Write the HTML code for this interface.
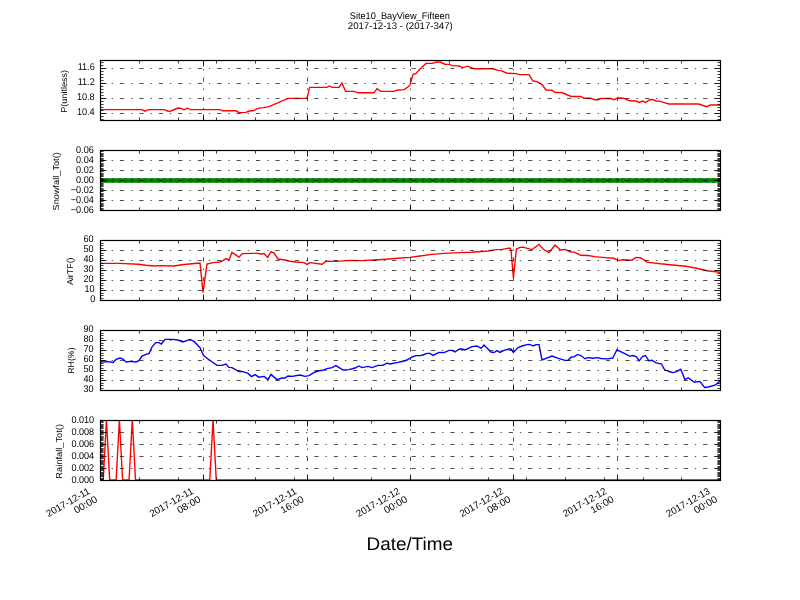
<!DOCTYPE html><html><head><meta charset="utf-8"><style>html,body{margin:0;padding:0;background:#fff;overflow:hidden}svg{display:block;will-change:transform}text{font-family:"Liberation Sans",sans-serif}</style></head><body><svg width="800" height="600" viewBox="0 0 800 600" font-family="Liberation Sans, sans-serif" text-rendering="geometricPrecision"><rect width="800" height="600" fill="#fff"/><defs><clipPath id="c0"><rect x="100" y="60" width="620" height="60"/></clipPath><clipPath id="c1"><rect x="100" y="150" width="620" height="60"/></clipPath><clipPath id="c2"><rect x="100" y="240" width="620" height="60"/></clipPath><clipPath id="c3"><rect x="100" y="330" width="620" height="60"/></clipPath><clipPath id="c4"><rect x="100" y="420" width="620" height="60"/></clipPath></defs><g clip-path="url(#c0)"><path d="M100.00,109.60 L142.00,109.60 L145.00,111.20 L148.60,109.60 L164.40,109.60 L168.00,111.20 L171.00,111.00 L178.00,108.00 L181.00,108.40 L184.00,109.80 L187.40,108.20 L190.40,109.60 L220.00,109.60 L222.40,110.80 L236.00,110.80 L239.00,112.60 L246.00,112.40 L249.00,111.00 L253.00,110.80 L257.00,109.00 L258.00,108.40 L264.00,107.60 L269.00,106.60 L288.00,98.40 L307.00,98.40 L309.60,87.40 L327.00,87.40 L329.40,86.00 L332.00,87.40 L339.00,87.40 L342.00,83.00 L345.60,91.40 L354.00,91.40 L358.00,92.80 L374.00,92.80 L377.00,88.60 L381.00,91.40 L394.00,91.40 L397.00,90.20 L404.00,89.60 L408.00,87.00 L410.00,85.00 L413.00,74.60 L416.00,73.40 L420.00,69.00 L426.00,63.40 L432.00,63.40 L437.00,62.00 L440.00,62.00 L445.00,64.20 L449.00,64.40 L452.00,65.60 L459.00,66.00 L463.00,67.60 L468.00,66.20 L474.00,68.80 L493.00,68.80 L498.00,70.40 L501.00,70.60 L507.00,73.20 L516.00,73.60 L520.00,74.60 L529.00,74.60 L533.00,81.00 L537.00,81.60 L542.00,84.60 L546.00,90.00 L552.00,90.20 L555.30,92.50 L561.70,92.50 L571.20,96.50 L580.80,96.50 L584.00,98.20 L590.40,98.20 L594.60,99.70 L597.80,99.70 L601.00,98.50 L610.60,98.50 L613.70,99.70 L618.00,98.00 L623.30,98.20 L629.70,100.80 L636.00,101.00 L639.20,102.50 L642.40,101.00 L645.60,102.50 L649.90,99.50 L653.00,99.70 L656.20,101.00 L660.50,101.40 L665.80,103.10 L669.00,104.00 L698.70,104.00 L703.00,105.50 L707.20,106.70 L710.40,105.00 L720.00,105.00" fill="none" stroke="#ff0000" stroke-width="1.39" stroke-linejoin="miter" stroke-miterlimit="4" stroke-linecap="square" /></g><g stroke="#000" stroke-width="0.69" fill="none" stroke-dasharray="4.17,6.94,1.39,6.94" stroke-dashoffset="-0.5"><line x1="100" y1="68.5" x2="720" y2="68.5"/><line x1="100" y1="83.5" x2="720" y2="83.5"/><line x1="100" y1="98.5" x2="720" y2="98.5"/><line x1="100" y1="113.5" x2="720" y2="113.5"/><line x1="203.5" y1="120.5" x2="203.5" y2="60.5" stroke-dashoffset="0"/><line x1="307.5" y1="120.5" x2="307.5" y2="60.5" stroke-dashoffset="0"/><line x1="410.5" y1="120.5" x2="410.5" y2="60.5" stroke-dashoffset="0"/><line x1="513.5" y1="120.5" x2="513.5" y2="60.5" stroke-dashoffset="0"/><line x1="617.5" y1="120.5" x2="617.5" y2="60.5" stroke-dashoffset="0"/></g><g stroke="#000" stroke-width="0.85"><line x1="100.5" y1="68.5" x2="106.5" y2="68.5"/><line x1="720.5" y1="68.5" x2="714.5" y2="68.5"/><line x1="100.5" y1="83.5" x2="106.5" y2="83.5"/><line x1="720.5" y1="83.5" x2="714.5" y2="83.5"/><line x1="100.5" y1="98.5" x2="106.5" y2="98.5"/><line x1="720.5" y1="98.5" x2="714.5" y2="98.5"/><line x1="100.5" y1="113.5" x2="106.5" y2="113.5"/><line x1="720.5" y1="113.5" x2="714.5" y2="113.5"/><line x1="100.5" y1="62.5" x2="103.6" y2="62.5" stroke-width="0.75"/><line x1="720.5" y1="62.5" x2="717.4" y2="62.5" stroke-width="0.75"/><line x1="100.5" y1="65.5" x2="103.6" y2="65.5" stroke-width="0.75"/><line x1="720.5" y1="65.5" x2="717.4" y2="65.5" stroke-width="0.75"/><line x1="100.5" y1="71.5" x2="103.6" y2="71.5" stroke-width="0.75"/><line x1="720.5" y1="71.5" x2="717.4" y2="71.5" stroke-width="0.75"/><line x1="100.5" y1="74.5" x2="103.6" y2="74.5" stroke-width="0.75"/><line x1="720.5" y1="74.5" x2="717.4" y2="74.5" stroke-width="0.75"/><line x1="100.5" y1="77.5" x2="103.6" y2="77.5" stroke-width="0.75"/><line x1="720.5" y1="77.5" x2="717.4" y2="77.5" stroke-width="0.75"/><line x1="100.5" y1="80.5" x2="103.6" y2="80.5" stroke-width="0.75"/><line x1="720.5" y1="80.5" x2="717.4" y2="80.5" stroke-width="0.75"/><line x1="100.5" y1="86.5" x2="103.6" y2="86.5" stroke-width="0.75"/><line x1="720.5" y1="86.5" x2="717.4" y2="86.5" stroke-width="0.75"/><line x1="100.5" y1="89.5" x2="103.6" y2="89.5" stroke-width="0.75"/><line x1="720.5" y1="89.5" x2="717.4" y2="89.5" stroke-width="0.75"/><line x1="100.5" y1="92.5" x2="103.6" y2="92.5" stroke-width="0.75"/><line x1="720.5" y1="92.5" x2="717.4" y2="92.5" stroke-width="0.75"/><line x1="100.5" y1="95.5" x2="103.6" y2="95.5" stroke-width="0.75"/><line x1="720.5" y1="95.5" x2="717.4" y2="95.5" stroke-width="0.75"/><line x1="100.5" y1="101.5" x2="103.6" y2="101.5" stroke-width="0.75"/><line x1="720.5" y1="101.5" x2="717.4" y2="101.5" stroke-width="0.75"/><line x1="100.5" y1="104.5" x2="103.6" y2="104.5" stroke-width="0.75"/><line x1="720.5" y1="104.5" x2="717.4" y2="104.5" stroke-width="0.75"/><line x1="100.5" y1="107.5" x2="103.6" y2="107.5" stroke-width="0.75"/><line x1="720.5" y1="107.5" x2="717.4" y2="107.5" stroke-width="0.75"/><line x1="100.5" y1="110.5" x2="103.6" y2="110.5" stroke-width="0.75"/><line x1="720.5" y1="110.5" x2="717.4" y2="110.5" stroke-width="0.75"/><line x1="100.5" y1="116.5" x2="103.6" y2="116.5" stroke-width="0.75"/><line x1="720.5" y1="116.5" x2="717.4" y2="116.5" stroke-width="0.75"/><line x1="100.5" y1="119.5" x2="103.6" y2="119.5" stroke-width="0.75"/><line x1="720.5" y1="119.5" x2="717.4" y2="119.5" stroke-width="0.75"/><line x1="100.5" y1="60.5" x2="100.5" y2="66.5"/><line x1="100.5" y1="120.5" x2="100.5" y2="114.5"/><line x1="203.5" y1="60.5" x2="203.5" y2="66.5"/><line x1="203.5" y1="120.5" x2="203.5" y2="114.5"/><line x1="307.5" y1="60.5" x2="307.5" y2="66.5"/><line x1="307.5" y1="120.5" x2="307.5" y2="114.5"/><line x1="410.5" y1="60.5" x2="410.5" y2="66.5"/><line x1="410.5" y1="120.5" x2="410.5" y2="114.5"/><line x1="513.5" y1="60.5" x2="513.5" y2="66.5"/><line x1="513.5" y1="120.5" x2="513.5" y2="114.5"/><line x1="617.5" y1="60.5" x2="617.5" y2="66.5"/><line x1="617.5" y1="120.5" x2="617.5" y2="114.5"/><line x1="720.5" y1="60.5" x2="720.5" y2="66.5"/><line x1="720.5" y1="120.5" x2="720.5" y2="114.5"/><line x1="100.5" y1="60.5" x2="100.5" y2="63.6" stroke-width="0.75"/><line x1="100.5" y1="120.5" x2="100.5" y2="117.4" stroke-width="0.75"/><line x1="139.5" y1="60.5" x2="139.5" y2="63.6" stroke-width="0.75"/><line x1="139.5" y1="120.5" x2="139.5" y2="117.4" stroke-width="0.75"/><line x1="178.5" y1="60.5" x2="178.5" y2="63.6" stroke-width="0.75"/><line x1="178.5" y1="120.5" x2="178.5" y2="117.4" stroke-width="0.75"/><line x1="216.5" y1="60.5" x2="216.5" y2="63.6" stroke-width="0.75"/><line x1="216.5" y1="120.5" x2="216.5" y2="117.4" stroke-width="0.75"/><line x1="255.5" y1="60.5" x2="255.5" y2="63.6" stroke-width="0.75"/><line x1="255.5" y1="120.5" x2="255.5" y2="117.4" stroke-width="0.75"/><line x1="294.5" y1="60.5" x2="294.5" y2="63.6" stroke-width="0.75"/><line x1="294.5" y1="120.5" x2="294.5" y2="117.4" stroke-width="0.75"/><line x1="333.5" y1="60.5" x2="333.5" y2="63.6" stroke-width="0.75"/><line x1="333.5" y1="120.5" x2="333.5" y2="117.4" stroke-width="0.75"/><line x1="371.5" y1="60.5" x2="371.5" y2="63.6" stroke-width="0.75"/><line x1="371.5" y1="120.5" x2="371.5" y2="117.4" stroke-width="0.75"/><line x1="410.5" y1="60.5" x2="410.5" y2="63.6" stroke-width="0.75"/><line x1="410.5" y1="120.5" x2="410.5" y2="117.4" stroke-width="0.75"/><line x1="449.5" y1="60.5" x2="449.5" y2="63.6" stroke-width="0.75"/><line x1="449.5" y1="120.5" x2="449.5" y2="117.4" stroke-width="0.75"/><line x1="488.5" y1="60.5" x2="488.5" y2="63.6" stroke-width="0.75"/><line x1="488.5" y1="120.5" x2="488.5" y2="117.4" stroke-width="0.75"/><line x1="526.5" y1="60.5" x2="526.5" y2="63.6" stroke-width="0.75"/><line x1="526.5" y1="120.5" x2="526.5" y2="117.4" stroke-width="0.75"/><line x1="565.5" y1="60.5" x2="565.5" y2="63.6" stroke-width="0.75"/><line x1="565.5" y1="120.5" x2="565.5" y2="117.4" stroke-width="0.75"/><line x1="604.5" y1="60.5" x2="604.5" y2="63.6" stroke-width="0.75"/><line x1="604.5" y1="120.5" x2="604.5" y2="117.4" stroke-width="0.75"/><line x1="643.5" y1="60.5" x2="643.5" y2="63.6" stroke-width="0.75"/><line x1="643.5" y1="120.5" x2="643.5" y2="117.4" stroke-width="0.75"/><line x1="681.5" y1="60.5" x2="681.5" y2="63.6" stroke-width="0.75"/><line x1="681.5" y1="120.5" x2="681.5" y2="117.4" stroke-width="0.75"/><line x1="720.5" y1="60.5" x2="720.5" y2="63.6" stroke-width="0.75"/><line x1="720.5" y1="120.5" x2="720.5" y2="117.4" stroke-width="0.75"/></g><rect x="100.5" y="60.5" width="620" height="60" fill="none" stroke="#000" stroke-width="1.2"/><g font-size="9.8" text-anchor="end" fill="#000"><text transform="translate(94.70,70.00) scale(0.93,1)">11.6</text><text transform="translate(94.70,85.00) scale(0.93,1)">11.2</text><text transform="translate(94.70,100.00) scale(0.93,1)">10.8</text><text transform="translate(94.70,115.00) scale(0.93,1)">10.4</text></g><text transform="translate(66.63,112.75) rotate(-90)" font-size="8.6" textLength="42.83" lengthAdjust="spacingAndGlyphs">P(unitless)</text><g clip-path="url(#c1)"><line x1="100" y1="180.5" x2="720" y2="180.5" stroke="#008000" stroke-width="4.3"/><circle cx="100.00" cy="180.5" r="2.45" fill="#008000"/><circle cx="106.46" cy="180.5" r="2.45" fill="#008000"/><circle cx="112.92" cy="180.5" r="2.45" fill="#008000"/><circle cx="119.38" cy="180.5" r="2.45" fill="#008000"/><circle cx="125.83" cy="180.5" r="2.45" fill="#008000"/><circle cx="132.29" cy="180.5" r="2.45" fill="#008000"/><circle cx="138.75" cy="180.5" r="2.45" fill="#008000"/><circle cx="145.21" cy="180.5" r="2.45" fill="#008000"/><circle cx="151.67" cy="180.5" r="2.45" fill="#008000"/><circle cx="158.12" cy="180.5" r="2.45" fill="#008000"/><circle cx="164.58" cy="180.5" r="2.45" fill="#008000"/><circle cx="171.04" cy="180.5" r="2.45" fill="#008000"/><circle cx="177.50" cy="180.5" r="2.45" fill="#008000"/><circle cx="183.96" cy="180.5" r="2.45" fill="#008000"/><circle cx="190.42" cy="180.5" r="2.45" fill="#008000"/><circle cx="196.88" cy="180.5" r="2.45" fill="#008000"/><circle cx="203.33" cy="180.5" r="2.45" fill="#008000"/><circle cx="209.79" cy="180.5" r="2.45" fill="#008000"/><circle cx="216.25" cy="180.5" r="2.45" fill="#008000"/><circle cx="222.71" cy="180.5" r="2.45" fill="#008000"/><circle cx="229.17" cy="180.5" r="2.45" fill="#008000"/><circle cx="235.62" cy="180.5" r="2.45" fill="#008000"/><circle cx="242.08" cy="180.5" r="2.45" fill="#008000"/><circle cx="248.54" cy="180.5" r="2.45" fill="#008000"/><circle cx="255.00" cy="180.5" r="2.45" fill="#008000"/><circle cx="261.46" cy="180.5" r="2.45" fill="#008000"/><circle cx="267.92" cy="180.5" r="2.45" fill="#008000"/><circle cx="274.38" cy="180.5" r="2.45" fill="#008000"/><circle cx="280.83" cy="180.5" r="2.45" fill="#008000"/><circle cx="287.29" cy="180.5" r="2.45" fill="#008000"/><circle cx="293.75" cy="180.5" r="2.45" fill="#008000"/><circle cx="300.21" cy="180.5" r="2.45" fill="#008000"/><circle cx="306.67" cy="180.5" r="2.45" fill="#008000"/><circle cx="313.12" cy="180.5" r="2.45" fill="#008000"/><circle cx="319.58" cy="180.5" r="2.45" fill="#008000"/><circle cx="326.04" cy="180.5" r="2.45" fill="#008000"/><circle cx="332.50" cy="180.5" r="2.45" fill="#008000"/><circle cx="338.96" cy="180.5" r="2.45" fill="#008000"/><circle cx="345.42" cy="180.5" r="2.45" fill="#008000"/><circle cx="351.88" cy="180.5" r="2.45" fill="#008000"/><circle cx="358.33" cy="180.5" r="2.45" fill="#008000"/><circle cx="364.79" cy="180.5" r="2.45" fill="#008000"/><circle cx="371.25" cy="180.5" r="2.45" fill="#008000"/><circle cx="377.71" cy="180.5" r="2.45" fill="#008000"/><circle cx="384.17" cy="180.5" r="2.45" fill="#008000"/><circle cx="390.62" cy="180.5" r="2.45" fill="#008000"/><circle cx="397.08" cy="180.5" r="2.45" fill="#008000"/><circle cx="403.54" cy="180.5" r="2.45" fill="#008000"/><circle cx="410.00" cy="180.5" r="2.45" fill="#008000"/><circle cx="416.46" cy="180.5" r="2.45" fill="#008000"/><circle cx="422.92" cy="180.5" r="2.45" fill="#008000"/><circle cx="429.38" cy="180.5" r="2.45" fill="#008000"/><circle cx="435.83" cy="180.5" r="2.45" fill="#008000"/><circle cx="442.29" cy="180.5" r="2.45" fill="#008000"/><circle cx="448.75" cy="180.5" r="2.45" fill="#008000"/><circle cx="455.21" cy="180.5" r="2.45" fill="#008000"/><circle cx="461.67" cy="180.5" r="2.45" fill="#008000"/><circle cx="468.12" cy="180.5" r="2.45" fill="#008000"/><circle cx="474.58" cy="180.5" r="2.45" fill="#008000"/><circle cx="481.04" cy="180.5" r="2.45" fill="#008000"/><circle cx="487.50" cy="180.5" r="2.45" fill="#008000"/><circle cx="493.96" cy="180.5" r="2.45" fill="#008000"/><circle cx="500.42" cy="180.5" r="2.45" fill="#008000"/><circle cx="506.88" cy="180.5" r="2.45" fill="#008000"/><circle cx="513.33" cy="180.5" r="2.45" fill="#008000"/><circle cx="519.79" cy="180.5" r="2.45" fill="#008000"/><circle cx="526.25" cy="180.5" r="2.45" fill="#008000"/><circle cx="532.71" cy="180.5" r="2.45" fill="#008000"/><circle cx="539.17" cy="180.5" r="2.45" fill="#008000"/><circle cx="545.62" cy="180.5" r="2.45" fill="#008000"/><circle cx="552.08" cy="180.5" r="2.45" fill="#008000"/><circle cx="558.54" cy="180.5" r="2.45" fill="#008000"/><circle cx="565.00" cy="180.5" r="2.45" fill="#008000"/><circle cx="571.46" cy="180.5" r="2.45" fill="#008000"/><circle cx="577.92" cy="180.5" r="2.45" fill="#008000"/><circle cx="584.38" cy="180.5" r="2.45" fill="#008000"/><circle cx="590.83" cy="180.5" r="2.45" fill="#008000"/><circle cx="597.29" cy="180.5" r="2.45" fill="#008000"/><circle cx="603.75" cy="180.5" r="2.45" fill="#008000"/><circle cx="610.21" cy="180.5" r="2.45" fill="#008000"/><circle cx="616.67" cy="180.5" r="2.45" fill="#008000"/><circle cx="623.12" cy="180.5" r="2.45" fill="#008000"/><circle cx="629.58" cy="180.5" r="2.45" fill="#008000"/><circle cx="636.04" cy="180.5" r="2.45" fill="#008000"/><circle cx="642.50" cy="180.5" r="2.45" fill="#008000"/><circle cx="648.96" cy="180.5" r="2.45" fill="#008000"/><circle cx="655.42" cy="180.5" r="2.45" fill="#008000"/><circle cx="661.88" cy="180.5" r="2.45" fill="#008000"/><circle cx="668.33" cy="180.5" r="2.45" fill="#008000"/><circle cx="674.79" cy="180.5" r="2.45" fill="#008000"/><circle cx="681.25" cy="180.5" r="2.45" fill="#008000"/><circle cx="687.71" cy="180.5" r="2.45" fill="#008000"/><circle cx="694.17" cy="180.5" r="2.45" fill="#008000"/><circle cx="700.62" cy="180.5" r="2.45" fill="#008000"/><circle cx="707.08" cy="180.5" r="2.45" fill="#008000"/><circle cx="713.54" cy="180.5" r="2.45" fill="#008000"/><circle cx="720.00" cy="180.5" r="2.45" fill="#008000"/></g><g stroke="#000" stroke-width="0.69" fill="none" stroke-dasharray="4.17,6.94,1.39,6.94" stroke-dashoffset="-0.5"><line x1="100" y1="160.5" x2="720" y2="160.5"/><line x1="100" y1="170.5" x2="720" y2="170.5"/><line x1="100" y1="180.5" x2="720" y2="180.5"/><line x1="100" y1="190.5" x2="720" y2="190.5"/><line x1="100" y1="200.5" x2="720" y2="200.5"/><line x1="203.5" y1="210.5" x2="203.5" y2="150.5" stroke-dashoffset="0"/><line x1="307.5" y1="210.5" x2="307.5" y2="150.5" stroke-dashoffset="0"/><line x1="410.5" y1="210.5" x2="410.5" y2="150.5" stroke-dashoffset="0"/><line x1="513.5" y1="210.5" x2="513.5" y2="150.5" stroke-dashoffset="0"/><line x1="617.5" y1="210.5" x2="617.5" y2="150.5" stroke-dashoffset="0"/></g><g stroke="#000" stroke-width="0.85"><line x1="100.5" y1="150.5" x2="106.5" y2="150.5"/><line x1="720.5" y1="150.5" x2="714.5" y2="150.5"/><line x1="100.5" y1="160.5" x2="106.5" y2="160.5"/><line x1="720.5" y1="160.5" x2="714.5" y2="160.5"/><line x1="100.5" y1="170.5" x2="106.5" y2="170.5"/><line x1="720.5" y1="170.5" x2="714.5" y2="170.5"/><line x1="100.5" y1="180.5" x2="106.5" y2="180.5"/><line x1="720.5" y1="180.5" x2="714.5" y2="180.5"/><line x1="100.5" y1="190.5" x2="106.5" y2="190.5"/><line x1="720.5" y1="190.5" x2="714.5" y2="190.5"/><line x1="100.5" y1="200.5" x2="106.5" y2="200.5"/><line x1="720.5" y1="200.5" x2="714.5" y2="200.5"/><line x1="100.5" y1="210.5" x2="106.5" y2="210.5"/><line x1="720.5" y1="210.5" x2="714.5" y2="210.5"/><line x1="100.5" y1="151.5" x2="103.6" y2="151.5" stroke-width="0.75"/><line x1="720.5" y1="151.5" x2="717.4" y2="151.5" stroke-width="0.75"/><line x1="100.5" y1="153.5" x2="103.6" y2="153.5" stroke-width="0.75"/><line x1="720.5" y1="153.5" x2="717.4" y2="153.5" stroke-width="0.75"/><line x1="100.5" y1="154.5" x2="103.6" y2="154.5" stroke-width="0.75"/><line x1="720.5" y1="154.5" x2="717.4" y2="154.5" stroke-width="0.75"/><line x1="100.5" y1="155.5" x2="103.6" y2="155.5" stroke-width="0.75"/><line x1="720.5" y1="155.5" x2="717.4" y2="155.5" stroke-width="0.75"/><line x1="100.5" y1="156.5" x2="103.6" y2="156.5" stroke-width="0.75"/><line x1="720.5" y1="156.5" x2="717.4" y2="156.5" stroke-width="0.75"/><line x1="100.5" y1="158.5" x2="103.6" y2="158.5" stroke-width="0.75"/><line x1="720.5" y1="158.5" x2="717.4" y2="158.5" stroke-width="0.75"/><line x1="100.5" y1="159.5" x2="103.6" y2="159.5" stroke-width="0.75"/><line x1="720.5" y1="159.5" x2="717.4" y2="159.5" stroke-width="0.75"/><line x1="100.5" y1="161.5" x2="103.6" y2="161.5" stroke-width="0.75"/><line x1="720.5" y1="161.5" x2="717.4" y2="161.5" stroke-width="0.75"/><line x1="100.5" y1="163.5" x2="103.6" y2="163.5" stroke-width="0.75"/><line x1="720.5" y1="163.5" x2="717.4" y2="163.5" stroke-width="0.75"/><line x1="100.5" y1="164.5" x2="103.6" y2="164.5" stroke-width="0.75"/><line x1="720.5" y1="164.5" x2="717.4" y2="164.5" stroke-width="0.75"/><line x1="100.5" y1="165.5" x2="103.6" y2="165.5" stroke-width="0.75"/><line x1="720.5" y1="165.5" x2="717.4" y2="165.5" stroke-width="0.75"/><line x1="100.5" y1="166.5" x2="103.6" y2="166.5" stroke-width="0.75"/><line x1="720.5" y1="166.5" x2="717.4" y2="166.5" stroke-width="0.75"/><line x1="100.5" y1="168.5" x2="103.6" y2="168.5" stroke-width="0.75"/><line x1="720.5" y1="168.5" x2="717.4" y2="168.5" stroke-width="0.75"/><line x1="100.5" y1="169.5" x2="103.6" y2="169.5" stroke-width="0.75"/><line x1="720.5" y1="169.5" x2="717.4" y2="169.5" stroke-width="0.75"/><line x1="100.5" y1="171.5" x2="103.6" y2="171.5" stroke-width="0.75"/><line x1="720.5" y1="171.5" x2="717.4" y2="171.5" stroke-width="0.75"/><line x1="100.5" y1="173.5" x2="103.6" y2="173.5" stroke-width="0.75"/><line x1="720.5" y1="173.5" x2="717.4" y2="173.5" stroke-width="0.75"/><line x1="100.5" y1="174.5" x2="103.6" y2="174.5" stroke-width="0.75"/><line x1="720.5" y1="174.5" x2="717.4" y2="174.5" stroke-width="0.75"/><line x1="100.5" y1="175.5" x2="103.6" y2="175.5" stroke-width="0.75"/><line x1="720.5" y1="175.5" x2="717.4" y2="175.5" stroke-width="0.75"/><line x1="100.5" y1="176.5" x2="103.6" y2="176.5" stroke-width="0.75"/><line x1="720.5" y1="176.5" x2="717.4" y2="176.5" stroke-width="0.75"/><line x1="100.5" y1="178.5" x2="103.6" y2="178.5" stroke-width="0.75"/><line x1="720.5" y1="178.5" x2="717.4" y2="178.5" stroke-width="0.75"/><line x1="100.5" y1="179.5" x2="103.6" y2="179.5" stroke-width="0.75"/><line x1="720.5" y1="179.5" x2="717.4" y2="179.5" stroke-width="0.75"/><line x1="100.5" y1="181.5" x2="103.6" y2="181.5" stroke-width="0.75"/><line x1="720.5" y1="181.5" x2="717.4" y2="181.5" stroke-width="0.75"/><line x1="100.5" y1="183.5" x2="103.6" y2="183.5" stroke-width="0.75"/><line x1="720.5" y1="183.5" x2="717.4" y2="183.5" stroke-width="0.75"/><line x1="100.5" y1="184.5" x2="103.6" y2="184.5" stroke-width="0.75"/><line x1="720.5" y1="184.5" x2="717.4" y2="184.5" stroke-width="0.75"/><line x1="100.5" y1="185.5" x2="103.6" y2="185.5" stroke-width="0.75"/><line x1="720.5" y1="185.5" x2="717.4" y2="185.5" stroke-width="0.75"/><line x1="100.5" y1="186.5" x2="103.6" y2="186.5" stroke-width="0.75"/><line x1="720.5" y1="186.5" x2="717.4" y2="186.5" stroke-width="0.75"/><line x1="100.5" y1="188.5" x2="103.6" y2="188.5" stroke-width="0.75"/><line x1="720.5" y1="188.5" x2="717.4" y2="188.5" stroke-width="0.75"/><line x1="100.5" y1="189.5" x2="103.6" y2="189.5" stroke-width="0.75"/><line x1="720.5" y1="189.5" x2="717.4" y2="189.5" stroke-width="0.75"/><line x1="100.5" y1="191.5" x2="103.6" y2="191.5" stroke-width="0.75"/><line x1="720.5" y1="191.5" x2="717.4" y2="191.5" stroke-width="0.75"/><line x1="100.5" y1="193.5" x2="103.6" y2="193.5" stroke-width="0.75"/><line x1="720.5" y1="193.5" x2="717.4" y2="193.5" stroke-width="0.75"/><line x1="100.5" y1="194.5" x2="103.6" y2="194.5" stroke-width="0.75"/><line x1="720.5" y1="194.5" x2="717.4" y2="194.5" stroke-width="0.75"/><line x1="100.5" y1="195.5" x2="103.6" y2="195.5" stroke-width="0.75"/><line x1="720.5" y1="195.5" x2="717.4" y2="195.5" stroke-width="0.75"/><line x1="100.5" y1="196.5" x2="103.6" y2="196.5" stroke-width="0.75"/><line x1="720.5" y1="196.5" x2="717.4" y2="196.5" stroke-width="0.75"/><line x1="100.5" y1="198.5" x2="103.6" y2="198.5" stroke-width="0.75"/><line x1="720.5" y1="198.5" x2="717.4" y2="198.5" stroke-width="0.75"/><line x1="100.5" y1="199.5" x2="103.6" y2="199.5" stroke-width="0.75"/><line x1="720.5" y1="199.5" x2="717.4" y2="199.5" stroke-width="0.75"/><line x1="100.5" y1="201.5" x2="103.6" y2="201.5" stroke-width="0.75"/><line x1="720.5" y1="201.5" x2="717.4" y2="201.5" stroke-width="0.75"/><line x1="100.5" y1="203.5" x2="103.6" y2="203.5" stroke-width="0.75"/><line x1="720.5" y1="203.5" x2="717.4" y2="203.5" stroke-width="0.75"/><line x1="100.5" y1="204.5" x2="103.6" y2="204.5" stroke-width="0.75"/><line x1="720.5" y1="204.5" x2="717.4" y2="204.5" stroke-width="0.75"/><line x1="100.5" y1="205.5" x2="103.6" y2="205.5" stroke-width="0.75"/><line x1="720.5" y1="205.5" x2="717.4" y2="205.5" stroke-width="0.75"/><line x1="100.5" y1="206.5" x2="103.6" y2="206.5" stroke-width="0.75"/><line x1="720.5" y1="206.5" x2="717.4" y2="206.5" stroke-width="0.75"/><line x1="100.5" y1="208.5" x2="103.6" y2="208.5" stroke-width="0.75"/><line x1="720.5" y1="208.5" x2="717.4" y2="208.5" stroke-width="0.75"/><line x1="100.5" y1="209.5" x2="103.6" y2="209.5" stroke-width="0.75"/><line x1="720.5" y1="209.5" x2="717.4" y2="209.5" stroke-width="0.75"/><line x1="100.5" y1="150.5" x2="100.5" y2="156.5"/><line x1="100.5" y1="210.5" x2="100.5" y2="204.5"/><line x1="203.5" y1="150.5" x2="203.5" y2="156.5"/><line x1="203.5" y1="210.5" x2="203.5" y2="204.5"/><line x1="307.5" y1="150.5" x2="307.5" y2="156.5"/><line x1="307.5" y1="210.5" x2="307.5" y2="204.5"/><line x1="410.5" y1="150.5" x2="410.5" y2="156.5"/><line x1="410.5" y1="210.5" x2="410.5" y2="204.5"/><line x1="513.5" y1="150.5" x2="513.5" y2="156.5"/><line x1="513.5" y1="210.5" x2="513.5" y2="204.5"/><line x1="617.5" y1="150.5" x2="617.5" y2="156.5"/><line x1="617.5" y1="210.5" x2="617.5" y2="204.5"/><line x1="720.5" y1="150.5" x2="720.5" y2="156.5"/><line x1="720.5" y1="210.5" x2="720.5" y2="204.5"/><line x1="100.5" y1="150.5" x2="100.5" y2="153.6" stroke-width="0.75"/><line x1="100.5" y1="210.5" x2="100.5" y2="207.4" stroke-width="0.75"/><line x1="139.5" y1="150.5" x2="139.5" y2="153.6" stroke-width="0.75"/><line x1="139.5" y1="210.5" x2="139.5" y2="207.4" stroke-width="0.75"/><line x1="178.5" y1="150.5" x2="178.5" y2="153.6" stroke-width="0.75"/><line x1="178.5" y1="210.5" x2="178.5" y2="207.4" stroke-width="0.75"/><line x1="216.5" y1="150.5" x2="216.5" y2="153.6" stroke-width="0.75"/><line x1="216.5" y1="210.5" x2="216.5" y2="207.4" stroke-width="0.75"/><line x1="255.5" y1="150.5" x2="255.5" y2="153.6" stroke-width="0.75"/><line x1="255.5" y1="210.5" x2="255.5" y2="207.4" stroke-width="0.75"/><line x1="294.5" y1="150.5" x2="294.5" y2="153.6" stroke-width="0.75"/><line x1="294.5" y1="210.5" x2="294.5" y2="207.4" stroke-width="0.75"/><line x1="333.5" y1="150.5" x2="333.5" y2="153.6" stroke-width="0.75"/><line x1="333.5" y1="210.5" x2="333.5" y2="207.4" stroke-width="0.75"/><line x1="371.5" y1="150.5" x2="371.5" y2="153.6" stroke-width="0.75"/><line x1="371.5" y1="210.5" x2="371.5" y2="207.4" stroke-width="0.75"/><line x1="410.5" y1="150.5" x2="410.5" y2="153.6" stroke-width="0.75"/><line x1="410.5" y1="210.5" x2="410.5" y2="207.4" stroke-width="0.75"/><line x1="449.5" y1="150.5" x2="449.5" y2="153.6" stroke-width="0.75"/><line x1="449.5" y1="210.5" x2="449.5" y2="207.4" stroke-width="0.75"/><line x1="488.5" y1="150.5" x2="488.5" y2="153.6" stroke-width="0.75"/><line x1="488.5" y1="210.5" x2="488.5" y2="207.4" stroke-width="0.75"/><line x1="526.5" y1="150.5" x2="526.5" y2="153.6" stroke-width="0.75"/><line x1="526.5" y1="210.5" x2="526.5" y2="207.4" stroke-width="0.75"/><line x1="565.5" y1="150.5" x2="565.5" y2="153.6" stroke-width="0.75"/><line x1="565.5" y1="210.5" x2="565.5" y2="207.4" stroke-width="0.75"/><line x1="604.5" y1="150.5" x2="604.5" y2="153.6" stroke-width="0.75"/><line x1="604.5" y1="210.5" x2="604.5" y2="207.4" stroke-width="0.75"/><line x1="643.5" y1="150.5" x2="643.5" y2="153.6" stroke-width="0.75"/><line x1="643.5" y1="210.5" x2="643.5" y2="207.4" stroke-width="0.75"/><line x1="681.5" y1="150.5" x2="681.5" y2="153.6" stroke-width="0.75"/><line x1="681.5" y1="210.5" x2="681.5" y2="207.4" stroke-width="0.75"/><line x1="720.5" y1="150.5" x2="720.5" y2="153.6" stroke-width="0.75"/><line x1="720.5" y1="210.5" x2="720.5" y2="207.4" stroke-width="0.75"/></g><rect x="100.5" y="150.5" width="620" height="60" fill="none" stroke="#000" stroke-width="1.2"/><g font-size="9.8" text-anchor="end" fill="#000"><text transform="translate(93.80,153.00) scale(0.93,1)">0.06</text><text transform="translate(93.80,163.00) scale(0.93,1)">0.04</text><text transform="translate(93.80,173.00) scale(0.93,1)">0.02</text><text transform="translate(93.80,183.00) scale(0.93,1)">0.00</text><text transform="translate(93.80,193.00) scale(0.93,1)">−0.02</text><text transform="translate(93.80,203.00) scale(0.93,1)">−0.04</text><text transform="translate(93.80,213.00) scale(0.93,1)">−0.06</text></g><text transform="translate(59.34,210.41) rotate(-90)" font-size="8.6" textLength="58.20" lengthAdjust="spacingAndGlyphs">Snowfall_Tot()</text><g clip-path="url(#c2)"><path d="M100.00,263.40 L120.00,263.40 L138.00,264.20 L146.00,265.20 L154.00,266.00 L160.00,265.60 L174.00,266.00 L182.00,264.80 L192.00,263.80 L200.00,263.00 L203.00,292.40 L207.00,264.00 L213.00,262.60 L220.00,262.00 L223.00,260.60 L226.00,258.60 L229.00,260.00 L232.00,252.40 L239.00,257.00 L242.40,253.60 L252.00,253.40 L258.00,253.40 L261.00,254.00 L264.00,253.60 L267.60,257.40 L271.00,251.60 L274.00,253.00 L278.00,259.00 L285.00,260.00 L290.00,261.20 L296.00,262.00 L304.00,262.60 L307.00,264.40 L310.00,262.60 L322.00,264.20 L326.00,261.20 L336.00,261.40 L350.00,260.40 L362.00,260.60 L374.00,260.00 L386.00,259.20 L398.00,258.20 L410.00,257.40 L420.00,256.00 L432.00,254.40 L444.00,253.40 L460.00,252.60 L472.00,252.20 L488.00,251.00 L496.00,249.60 L502.00,249.40 L506.00,248.60 L510.00,248.00 L511.00,250.00 L513.40,277.60 L516.40,249.00 L520.00,247.40 L523.00,247.20 L532.00,249.60 L539.00,244.40 L543.00,249.00 L549.00,252.60 L555.00,245.00 L560.60,250.00 L564.90,249.40 L570.20,251.70 L574.40,252.10 L580.80,255.30 L588.20,255.50 L594.60,256.60 L605.20,257.60 L613.70,258.30 L618.00,260.40 L623.30,259.80 L631.80,260.20 L636.10,257.40 L640.30,257.80 L643.50,259.50 L646.70,262.10 L660.50,263.80 L677.50,265.50 L686.00,266.30 L696.60,268.30 L707.20,270.80 L720.00,272.30" fill="none" stroke="#ff0000" stroke-width="1.39" stroke-linejoin="miter" stroke-miterlimit="4" stroke-linecap="square" /></g><g stroke="#000" stroke-width="0.69" fill="none" stroke-dasharray="4.17,6.94,1.39,6.94" stroke-dashoffset="-0.5"><line x1="100" y1="250.5" x2="720" y2="250.5"/><line x1="100" y1="260.5" x2="720" y2="260.5"/><line x1="100" y1="270.5" x2="720" y2="270.5"/><line x1="100" y1="280.5" x2="720" y2="280.5"/><line x1="100" y1="290.5" x2="720" y2="290.5"/><line x1="203.5" y1="300.5" x2="203.5" y2="240.5" stroke-dashoffset="0"/><line x1="307.5" y1="300.5" x2="307.5" y2="240.5" stroke-dashoffset="0"/><line x1="410.5" y1="300.5" x2="410.5" y2="240.5" stroke-dashoffset="0"/><line x1="513.5" y1="300.5" x2="513.5" y2="240.5" stroke-dashoffset="0"/><line x1="617.5" y1="300.5" x2="617.5" y2="240.5" stroke-dashoffset="0"/></g><g stroke="#000" stroke-width="0.85"><line x1="100.5" y1="240.5" x2="106.5" y2="240.5"/><line x1="720.5" y1="240.5" x2="714.5" y2="240.5"/><line x1="100.5" y1="250.5" x2="106.5" y2="250.5"/><line x1="720.5" y1="250.5" x2="714.5" y2="250.5"/><line x1="100.5" y1="260.5" x2="106.5" y2="260.5"/><line x1="720.5" y1="260.5" x2="714.5" y2="260.5"/><line x1="100.5" y1="270.5" x2="106.5" y2="270.5"/><line x1="720.5" y1="270.5" x2="714.5" y2="270.5"/><line x1="100.5" y1="280.5" x2="106.5" y2="280.5"/><line x1="720.5" y1="280.5" x2="714.5" y2="280.5"/><line x1="100.5" y1="290.5" x2="106.5" y2="290.5"/><line x1="720.5" y1="290.5" x2="714.5" y2="290.5"/><line x1="100.5" y1="300.5" x2="106.5" y2="300.5"/><line x1="720.5" y1="300.5" x2="714.5" y2="300.5"/><line x1="100.5" y1="243.5" x2="103.6" y2="243.5" stroke-width="0.75"/><line x1="720.5" y1="243.5" x2="717.4" y2="243.5" stroke-width="0.75"/><line x1="100.5" y1="245.5" x2="103.6" y2="245.5" stroke-width="0.75"/><line x1="720.5" y1="245.5" x2="717.4" y2="245.5" stroke-width="0.75"/><line x1="100.5" y1="248.5" x2="103.6" y2="248.5" stroke-width="0.75"/><line x1="720.5" y1="248.5" x2="717.4" y2="248.5" stroke-width="0.75"/><line x1="100.5" y1="253.5" x2="103.6" y2="253.5" stroke-width="0.75"/><line x1="720.5" y1="253.5" x2="717.4" y2="253.5" stroke-width="0.75"/><line x1="100.5" y1="255.5" x2="103.6" y2="255.5" stroke-width="0.75"/><line x1="720.5" y1="255.5" x2="717.4" y2="255.5" stroke-width="0.75"/><line x1="100.5" y1="258.5" x2="103.6" y2="258.5" stroke-width="0.75"/><line x1="720.5" y1="258.5" x2="717.4" y2="258.5" stroke-width="0.75"/><line x1="100.5" y1="263.5" x2="103.6" y2="263.5" stroke-width="0.75"/><line x1="720.5" y1="263.5" x2="717.4" y2="263.5" stroke-width="0.75"/><line x1="100.5" y1="265.5" x2="103.6" y2="265.5" stroke-width="0.75"/><line x1="720.5" y1="265.5" x2="717.4" y2="265.5" stroke-width="0.75"/><line x1="100.5" y1="268.5" x2="103.6" y2="268.5" stroke-width="0.75"/><line x1="720.5" y1="268.5" x2="717.4" y2="268.5" stroke-width="0.75"/><line x1="100.5" y1="273.5" x2="103.6" y2="273.5" stroke-width="0.75"/><line x1="720.5" y1="273.5" x2="717.4" y2="273.5" stroke-width="0.75"/><line x1="100.5" y1="275.5" x2="103.6" y2="275.5" stroke-width="0.75"/><line x1="720.5" y1="275.5" x2="717.4" y2="275.5" stroke-width="0.75"/><line x1="100.5" y1="278.5" x2="103.6" y2="278.5" stroke-width="0.75"/><line x1="720.5" y1="278.5" x2="717.4" y2="278.5" stroke-width="0.75"/><line x1="100.5" y1="283.5" x2="103.6" y2="283.5" stroke-width="0.75"/><line x1="720.5" y1="283.5" x2="717.4" y2="283.5" stroke-width="0.75"/><line x1="100.5" y1="285.5" x2="103.6" y2="285.5" stroke-width="0.75"/><line x1="720.5" y1="285.5" x2="717.4" y2="285.5" stroke-width="0.75"/><line x1="100.5" y1="288.5" x2="103.6" y2="288.5" stroke-width="0.75"/><line x1="720.5" y1="288.5" x2="717.4" y2="288.5" stroke-width="0.75"/><line x1="100.5" y1="293.5" x2="103.6" y2="293.5" stroke-width="0.75"/><line x1="720.5" y1="293.5" x2="717.4" y2="293.5" stroke-width="0.75"/><line x1="100.5" y1="295.5" x2="103.6" y2="295.5" stroke-width="0.75"/><line x1="720.5" y1="295.5" x2="717.4" y2="295.5" stroke-width="0.75"/><line x1="100.5" y1="298.5" x2="103.6" y2="298.5" stroke-width="0.75"/><line x1="720.5" y1="298.5" x2="717.4" y2="298.5" stroke-width="0.75"/><line x1="100.5" y1="240.5" x2="100.5" y2="246.5"/><line x1="100.5" y1="300.5" x2="100.5" y2="294.5"/><line x1="203.5" y1="240.5" x2="203.5" y2="246.5"/><line x1="203.5" y1="300.5" x2="203.5" y2="294.5"/><line x1="307.5" y1="240.5" x2="307.5" y2="246.5"/><line x1="307.5" y1="300.5" x2="307.5" y2="294.5"/><line x1="410.5" y1="240.5" x2="410.5" y2="246.5"/><line x1="410.5" y1="300.5" x2="410.5" y2="294.5"/><line x1="513.5" y1="240.5" x2="513.5" y2="246.5"/><line x1="513.5" y1="300.5" x2="513.5" y2="294.5"/><line x1="617.5" y1="240.5" x2="617.5" y2="246.5"/><line x1="617.5" y1="300.5" x2="617.5" y2="294.5"/><line x1="720.5" y1="240.5" x2="720.5" y2="246.5"/><line x1="720.5" y1="300.5" x2="720.5" y2="294.5"/><line x1="100.5" y1="240.5" x2="100.5" y2="243.6" stroke-width="0.75"/><line x1="100.5" y1="300.5" x2="100.5" y2="297.4" stroke-width="0.75"/><line x1="139.5" y1="240.5" x2="139.5" y2="243.6" stroke-width="0.75"/><line x1="139.5" y1="300.5" x2="139.5" y2="297.4" stroke-width="0.75"/><line x1="178.5" y1="240.5" x2="178.5" y2="243.6" stroke-width="0.75"/><line x1="178.5" y1="300.5" x2="178.5" y2="297.4" stroke-width="0.75"/><line x1="216.5" y1="240.5" x2="216.5" y2="243.6" stroke-width="0.75"/><line x1="216.5" y1="300.5" x2="216.5" y2="297.4" stroke-width="0.75"/><line x1="255.5" y1="240.5" x2="255.5" y2="243.6" stroke-width="0.75"/><line x1="255.5" y1="300.5" x2="255.5" y2="297.4" stroke-width="0.75"/><line x1="294.5" y1="240.5" x2="294.5" y2="243.6" stroke-width="0.75"/><line x1="294.5" y1="300.5" x2="294.5" y2="297.4" stroke-width="0.75"/><line x1="333.5" y1="240.5" x2="333.5" y2="243.6" stroke-width="0.75"/><line x1="333.5" y1="300.5" x2="333.5" y2="297.4" stroke-width="0.75"/><line x1="371.5" y1="240.5" x2="371.5" y2="243.6" stroke-width="0.75"/><line x1="371.5" y1="300.5" x2="371.5" y2="297.4" stroke-width="0.75"/><line x1="410.5" y1="240.5" x2="410.5" y2="243.6" stroke-width="0.75"/><line x1="410.5" y1="300.5" x2="410.5" y2="297.4" stroke-width="0.75"/><line x1="449.5" y1="240.5" x2="449.5" y2="243.6" stroke-width="0.75"/><line x1="449.5" y1="300.5" x2="449.5" y2="297.4" stroke-width="0.75"/><line x1="488.5" y1="240.5" x2="488.5" y2="243.6" stroke-width="0.75"/><line x1="488.5" y1="300.5" x2="488.5" y2="297.4" stroke-width="0.75"/><line x1="526.5" y1="240.5" x2="526.5" y2="243.6" stroke-width="0.75"/><line x1="526.5" y1="300.5" x2="526.5" y2="297.4" stroke-width="0.75"/><line x1="565.5" y1="240.5" x2="565.5" y2="243.6" stroke-width="0.75"/><line x1="565.5" y1="300.5" x2="565.5" y2="297.4" stroke-width="0.75"/><line x1="604.5" y1="240.5" x2="604.5" y2="243.6" stroke-width="0.75"/><line x1="604.5" y1="300.5" x2="604.5" y2="297.4" stroke-width="0.75"/><line x1="643.5" y1="240.5" x2="643.5" y2="243.6" stroke-width="0.75"/><line x1="643.5" y1="300.5" x2="643.5" y2="297.4" stroke-width="0.75"/><line x1="681.5" y1="240.5" x2="681.5" y2="243.6" stroke-width="0.75"/><line x1="681.5" y1="300.5" x2="681.5" y2="297.4" stroke-width="0.75"/><line x1="720.5" y1="240.5" x2="720.5" y2="243.6" stroke-width="0.75"/><line x1="720.5" y1="300.5" x2="720.5" y2="297.4" stroke-width="0.75"/></g><rect x="100.5" y="240.5" width="620" height="60" fill="none" stroke="#000" stroke-width="1.2"/><g font-size="9.8" text-anchor="end" fill="#000"><text transform="translate(93.60,242.00) scale(0.93,1)">60</text><text transform="translate(93.60,252.00) scale(0.93,1)">50</text><text transform="translate(93.60,262.00) scale(0.93,1)">40</text><text transform="translate(93.60,272.00) scale(0.93,1)">30</text><text transform="translate(93.60,282.00) scale(0.93,1)">20</text><text transform="translate(94.70,292.00) scale(0.93,1)">10</text><text transform="translate(95.30,302.00) scale(0.93,1)">0</text></g><text transform="translate(73.14,285.02) rotate(-90)" font-size="8.6" textLength="27.58" lengthAdjust="spacingAndGlyphs">AirTF()</text><g clip-path="url(#c3)"><path d="M100.00,362.00 L108.00,361.60 L113.00,362.40 L116.00,359.40 L120.00,358.00 L123.00,359.00 L126.00,362.00 L130.00,361.40 L136.00,362.00 L139.00,360.60 L142.00,356.00 L146.00,354.40 L149.00,353.60 L152.00,347.00 L155.60,342.60 L159.00,342.60 L161.40,344.00 L165.00,339.40 L172.00,339.40 L178.00,340.00 L183.00,342.00 L190.00,339.40 L194.00,341.40 L200.00,347.60 L203.60,355.60 L208.00,359.00 L217.00,365.40 L222.00,365.40 L226.00,364.00 L229.00,367.40 L232.00,367.60 L239.00,371.60 L242.00,371.40 L248.00,373.40 L251.40,376.60 L255.00,374.60 L259.00,377.20 L264.00,376.40 L268.00,379.60 L271.00,374.40 L277.00,379.60 L282.00,378.00 L285.00,378.00 L288.00,376.00 L292.00,376.40 L300.00,375.00 L305.00,376.40 L309.00,375.60 L315.00,372.00 L319.00,370.80 L324.00,370.00 L327.00,368.60 L332.00,367.60 L336.00,365.60 L343.00,370.00 L349.00,369.60 L355.00,368.00 L359.00,366.00 L362.00,367.60 L368.00,366.40 L372.00,367.60 L378.00,365.40 L383.00,365.20 L387.00,363.20 L390.00,364.00 L398.00,362.40 L404.00,361.00 L407.00,360.00 L412.00,357.00 L416.00,355.60 L420.00,355.60 L423.00,355.00 L427.00,353.40 L430.00,353.40 L433.00,355.40 L439.00,352.40 L444.00,352.60 L449.00,350.40 L452.00,350.40 L455.00,352.00 L459.00,349.20 L462.00,349.00 L465.00,350.00 L472.00,346.60 L477.00,346.00 L481.00,348.40 L484.00,345.00 L491.00,352.00 L494.00,352.60 L497.00,350.60 L500.00,352.40 L504.00,350.40 L509.00,349.00 L511.00,349.00 L513.40,352.40 L518.00,347.60 L522.00,346.00 L527.00,344.60 L530.00,344.40 L533.00,346.00 L536.00,344.60 L539.00,344.60 L542.00,360.00 L546.00,358.40 L552.00,356.00 L558.50,358.30 L564.90,360.40 L568.00,360.20 L571.20,357.20 L574.40,356.60 L577.60,354.40 L580.80,355.50 L585.10,358.70 L588.20,357.60 L592.50,358.30 L597.80,357.60 L601.00,358.50 L607.40,358.90 L612.70,358.00 L616.90,349.80 L621.20,351.90 L629.70,356.10 L632.90,355.50 L636.10,356.60 L639.20,360.80 L642.40,356.60 L645.60,355.50 L648.80,360.80 L652.00,360.20 L656.20,362.90 L661.60,364.00 L664.70,370.00 L672.20,372.50 L675.40,372.10 L680.70,369.30 L684.90,379.50 L688.10,377.80 L694.50,382.30 L699.80,381.40 L704.70,387.40 L708.30,387.00 L715.70,384.80 L720.00,381.00" fill="none" stroke="#0000ff" stroke-width="1.39" stroke-linejoin="miter" stroke-miterlimit="4" stroke-linecap="square" /></g><g stroke="#000" stroke-width="0.69" fill="none" stroke-dasharray="4.17,6.94,1.39,6.94" stroke-dashoffset="-0.5"><line x1="100" y1="340.5" x2="720" y2="340.5"/><line x1="100" y1="350.5" x2="720" y2="350.5"/><line x1="100" y1="360.5" x2="720" y2="360.5"/><line x1="100" y1="370.5" x2="720" y2="370.5"/><line x1="100" y1="380.5" x2="720" y2="380.5"/><line x1="203.5" y1="390.5" x2="203.5" y2="330.5" stroke-dashoffset="0"/><line x1="307.5" y1="390.5" x2="307.5" y2="330.5" stroke-dashoffset="0"/><line x1="410.5" y1="390.5" x2="410.5" y2="330.5" stroke-dashoffset="0"/><line x1="513.5" y1="390.5" x2="513.5" y2="330.5" stroke-dashoffset="0"/><line x1="617.5" y1="390.5" x2="617.5" y2="330.5" stroke-dashoffset="0"/></g><g stroke="#000" stroke-width="0.85"><line x1="100.5" y1="330.5" x2="106.5" y2="330.5"/><line x1="720.5" y1="330.5" x2="714.5" y2="330.5"/><line x1="100.5" y1="340.5" x2="106.5" y2="340.5"/><line x1="720.5" y1="340.5" x2="714.5" y2="340.5"/><line x1="100.5" y1="350.5" x2="106.5" y2="350.5"/><line x1="720.5" y1="350.5" x2="714.5" y2="350.5"/><line x1="100.5" y1="360.5" x2="106.5" y2="360.5"/><line x1="720.5" y1="360.5" x2="714.5" y2="360.5"/><line x1="100.5" y1="370.5" x2="106.5" y2="370.5"/><line x1="720.5" y1="370.5" x2="714.5" y2="370.5"/><line x1="100.5" y1="380.5" x2="106.5" y2="380.5"/><line x1="720.5" y1="380.5" x2="714.5" y2="380.5"/><line x1="100.5" y1="390.5" x2="106.5" y2="390.5"/><line x1="720.5" y1="390.5" x2="714.5" y2="390.5"/><line x1="100.5" y1="333.5" x2="103.6" y2="333.5" stroke-width="0.75"/><line x1="720.5" y1="333.5" x2="717.4" y2="333.5" stroke-width="0.75"/><line x1="100.5" y1="335.5" x2="103.6" y2="335.5" stroke-width="0.75"/><line x1="720.5" y1="335.5" x2="717.4" y2="335.5" stroke-width="0.75"/><line x1="100.5" y1="338.5" x2="103.6" y2="338.5" stroke-width="0.75"/><line x1="720.5" y1="338.5" x2="717.4" y2="338.5" stroke-width="0.75"/><line x1="100.5" y1="343.5" x2="103.6" y2="343.5" stroke-width="0.75"/><line x1="720.5" y1="343.5" x2="717.4" y2="343.5" stroke-width="0.75"/><line x1="100.5" y1="345.5" x2="103.6" y2="345.5" stroke-width="0.75"/><line x1="720.5" y1="345.5" x2="717.4" y2="345.5" stroke-width="0.75"/><line x1="100.5" y1="348.5" x2="103.6" y2="348.5" stroke-width="0.75"/><line x1="720.5" y1="348.5" x2="717.4" y2="348.5" stroke-width="0.75"/><line x1="100.5" y1="353.5" x2="103.6" y2="353.5" stroke-width="0.75"/><line x1="720.5" y1="353.5" x2="717.4" y2="353.5" stroke-width="0.75"/><line x1="100.5" y1="355.5" x2="103.6" y2="355.5" stroke-width="0.75"/><line x1="720.5" y1="355.5" x2="717.4" y2="355.5" stroke-width="0.75"/><line x1="100.5" y1="358.5" x2="103.6" y2="358.5" stroke-width="0.75"/><line x1="720.5" y1="358.5" x2="717.4" y2="358.5" stroke-width="0.75"/><line x1="100.5" y1="363.5" x2="103.6" y2="363.5" stroke-width="0.75"/><line x1="720.5" y1="363.5" x2="717.4" y2="363.5" stroke-width="0.75"/><line x1="100.5" y1="365.5" x2="103.6" y2="365.5" stroke-width="0.75"/><line x1="720.5" y1="365.5" x2="717.4" y2="365.5" stroke-width="0.75"/><line x1="100.5" y1="368.5" x2="103.6" y2="368.5" stroke-width="0.75"/><line x1="720.5" y1="368.5" x2="717.4" y2="368.5" stroke-width="0.75"/><line x1="100.5" y1="373.5" x2="103.6" y2="373.5" stroke-width="0.75"/><line x1="720.5" y1="373.5" x2="717.4" y2="373.5" stroke-width="0.75"/><line x1="100.5" y1="375.5" x2="103.6" y2="375.5" stroke-width="0.75"/><line x1="720.5" y1="375.5" x2="717.4" y2="375.5" stroke-width="0.75"/><line x1="100.5" y1="378.5" x2="103.6" y2="378.5" stroke-width="0.75"/><line x1="720.5" y1="378.5" x2="717.4" y2="378.5" stroke-width="0.75"/><line x1="100.5" y1="383.5" x2="103.6" y2="383.5" stroke-width="0.75"/><line x1="720.5" y1="383.5" x2="717.4" y2="383.5" stroke-width="0.75"/><line x1="100.5" y1="385.5" x2="103.6" y2="385.5" stroke-width="0.75"/><line x1="720.5" y1="385.5" x2="717.4" y2="385.5" stroke-width="0.75"/><line x1="100.5" y1="388.5" x2="103.6" y2="388.5" stroke-width="0.75"/><line x1="720.5" y1="388.5" x2="717.4" y2="388.5" stroke-width="0.75"/><line x1="100.5" y1="330.5" x2="100.5" y2="336.5"/><line x1="100.5" y1="390.5" x2="100.5" y2="384.5"/><line x1="203.5" y1="330.5" x2="203.5" y2="336.5"/><line x1="203.5" y1="390.5" x2="203.5" y2="384.5"/><line x1="307.5" y1="330.5" x2="307.5" y2="336.5"/><line x1="307.5" y1="390.5" x2="307.5" y2="384.5"/><line x1="410.5" y1="330.5" x2="410.5" y2="336.5"/><line x1="410.5" y1="390.5" x2="410.5" y2="384.5"/><line x1="513.5" y1="330.5" x2="513.5" y2="336.5"/><line x1="513.5" y1="390.5" x2="513.5" y2="384.5"/><line x1="617.5" y1="330.5" x2="617.5" y2="336.5"/><line x1="617.5" y1="390.5" x2="617.5" y2="384.5"/><line x1="720.5" y1="330.5" x2="720.5" y2="336.5"/><line x1="720.5" y1="390.5" x2="720.5" y2="384.5"/><line x1="100.5" y1="330.5" x2="100.5" y2="333.6" stroke-width="0.75"/><line x1="100.5" y1="390.5" x2="100.5" y2="387.4" stroke-width="0.75"/><line x1="139.5" y1="330.5" x2="139.5" y2="333.6" stroke-width="0.75"/><line x1="139.5" y1="390.5" x2="139.5" y2="387.4" stroke-width="0.75"/><line x1="178.5" y1="330.5" x2="178.5" y2="333.6" stroke-width="0.75"/><line x1="178.5" y1="390.5" x2="178.5" y2="387.4" stroke-width="0.75"/><line x1="216.5" y1="330.5" x2="216.5" y2="333.6" stroke-width="0.75"/><line x1="216.5" y1="390.5" x2="216.5" y2="387.4" stroke-width="0.75"/><line x1="255.5" y1="330.5" x2="255.5" y2="333.6" stroke-width="0.75"/><line x1="255.5" y1="390.5" x2="255.5" y2="387.4" stroke-width="0.75"/><line x1="294.5" y1="330.5" x2="294.5" y2="333.6" stroke-width="0.75"/><line x1="294.5" y1="390.5" x2="294.5" y2="387.4" stroke-width="0.75"/><line x1="333.5" y1="330.5" x2="333.5" y2="333.6" stroke-width="0.75"/><line x1="333.5" y1="390.5" x2="333.5" y2="387.4" stroke-width="0.75"/><line x1="371.5" y1="330.5" x2="371.5" y2="333.6" stroke-width="0.75"/><line x1="371.5" y1="390.5" x2="371.5" y2="387.4" stroke-width="0.75"/><line x1="410.5" y1="330.5" x2="410.5" y2="333.6" stroke-width="0.75"/><line x1="410.5" y1="390.5" x2="410.5" y2="387.4" stroke-width="0.75"/><line x1="449.5" y1="330.5" x2="449.5" y2="333.6" stroke-width="0.75"/><line x1="449.5" y1="390.5" x2="449.5" y2="387.4" stroke-width="0.75"/><line x1="488.5" y1="330.5" x2="488.5" y2="333.6" stroke-width="0.75"/><line x1="488.5" y1="390.5" x2="488.5" y2="387.4" stroke-width="0.75"/><line x1="526.5" y1="330.5" x2="526.5" y2="333.6" stroke-width="0.75"/><line x1="526.5" y1="390.5" x2="526.5" y2="387.4" stroke-width="0.75"/><line x1="565.5" y1="330.5" x2="565.5" y2="333.6" stroke-width="0.75"/><line x1="565.5" y1="390.5" x2="565.5" y2="387.4" stroke-width="0.75"/><line x1="604.5" y1="330.5" x2="604.5" y2="333.6" stroke-width="0.75"/><line x1="604.5" y1="390.5" x2="604.5" y2="387.4" stroke-width="0.75"/><line x1="643.5" y1="330.5" x2="643.5" y2="333.6" stroke-width="0.75"/><line x1="643.5" y1="390.5" x2="643.5" y2="387.4" stroke-width="0.75"/><line x1="681.5" y1="330.5" x2="681.5" y2="333.6" stroke-width="0.75"/><line x1="681.5" y1="390.5" x2="681.5" y2="387.4" stroke-width="0.75"/><line x1="720.5" y1="330.5" x2="720.5" y2="333.6" stroke-width="0.75"/><line x1="720.5" y1="390.5" x2="720.5" y2="387.4" stroke-width="0.75"/></g><rect x="100.5" y="330.5" width="620" height="60" fill="none" stroke="#000" stroke-width="1.2"/><g font-size="9.8" text-anchor="end" fill="#000"><text transform="translate(93.60,332.00) scale(0.93,1)">90</text><text transform="translate(93.60,342.00) scale(0.93,1)">80</text><text transform="translate(93.60,352.00) scale(0.93,1)">70</text><text transform="translate(93.60,362.00) scale(0.93,1)">60</text><text transform="translate(93.60,372.00) scale(0.93,1)">50</text><text transform="translate(93.60,382.00) scale(0.93,1)">40</text><text transform="translate(93.60,392.00) scale(0.93,1)">30</text></g><text transform="translate(74.23,373.72) rotate(-90)" font-size="8.6" textLength="26.27" lengthAdjust="spacingAndGlyphs">RH(%)</text><g clip-path="url(#c4)"><path d="M100.00,480.00 L103.23,480.00 L106.46,420.00 L109.69,480.00 L116.15,480.00 L119.38,420.00 L122.60,480.00 L129.06,480.00 L132.29,420.00 L135.52,480.00 L209.79,480.00 L213.02,420.00 L216.25,480.00 L720.00,480.00" fill="none" stroke="#ff0000" stroke-width="1.39" stroke-linejoin="miter" stroke-miterlimit="4" stroke-linecap="square" /></g><g stroke="#000" stroke-width="0.69" fill="none" stroke-dasharray="4.17,6.94,1.39,6.94" stroke-dashoffset="-0.5"><line x1="100" y1="432.5" x2="720" y2="432.5"/><line x1="100" y1="444.5" x2="720" y2="444.5"/><line x1="100" y1="456.5" x2="720" y2="456.5"/><line x1="100" y1="468.5" x2="720" y2="468.5"/><line x1="203.5" y1="480.5" x2="203.5" y2="420.5" stroke-dashoffset="0"/><line x1="307.5" y1="480.5" x2="307.5" y2="420.5" stroke-dashoffset="0"/><line x1="410.5" y1="480.5" x2="410.5" y2="420.5" stroke-dashoffset="0"/><line x1="513.5" y1="480.5" x2="513.5" y2="420.5" stroke-dashoffset="0"/><line x1="617.5" y1="480.5" x2="617.5" y2="420.5" stroke-dashoffset="0"/></g><g stroke="#000" stroke-width="0.85"><line x1="100.5" y1="420.5" x2="106.5" y2="420.5"/><line x1="720.5" y1="420.5" x2="714.5" y2="420.5"/><line x1="100.5" y1="432.5" x2="106.5" y2="432.5"/><line x1="720.5" y1="432.5" x2="714.5" y2="432.5"/><line x1="100.5" y1="444.5" x2="106.5" y2="444.5"/><line x1="720.5" y1="444.5" x2="714.5" y2="444.5"/><line x1="100.5" y1="456.5" x2="106.5" y2="456.5"/><line x1="720.5" y1="456.5" x2="714.5" y2="456.5"/><line x1="100.5" y1="468.5" x2="106.5" y2="468.5"/><line x1="720.5" y1="468.5" x2="714.5" y2="468.5"/><line x1="100.5" y1="480.5" x2="106.5" y2="480.5"/><line x1="720.5" y1="480.5" x2="714.5" y2="480.5"/><line x1="100.5" y1="421.5" x2="103.6" y2="421.5" stroke-width="0.75"/><line x1="720.5" y1="421.5" x2="717.4" y2="421.5" stroke-width="0.75"/><line x1="100.5" y1="422.5" x2="103.6" y2="422.5" stroke-width="0.75"/><line x1="720.5" y1="422.5" x2="717.4" y2="422.5" stroke-width="0.75"/><line x1="100.5" y1="424.5" x2="103.6" y2="424.5" stroke-width="0.75"/><line x1="720.5" y1="424.5" x2="717.4" y2="424.5" stroke-width="0.75"/><line x1="100.5" y1="425.5" x2="103.6" y2="425.5" stroke-width="0.75"/><line x1="720.5" y1="425.5" x2="717.4" y2="425.5" stroke-width="0.75"/><line x1="100.5" y1="426.5" x2="103.6" y2="426.5" stroke-width="0.75"/><line x1="720.5" y1="426.5" x2="717.4" y2="426.5" stroke-width="0.75"/><line x1="100.5" y1="427.5" x2="103.6" y2="427.5" stroke-width="0.75"/><line x1="720.5" y1="427.5" x2="717.4" y2="427.5" stroke-width="0.75"/><line x1="100.5" y1="428.5" x2="103.6" y2="428.5" stroke-width="0.75"/><line x1="720.5" y1="428.5" x2="717.4" y2="428.5" stroke-width="0.75"/><line x1="100.5" y1="430.5" x2="103.6" y2="430.5" stroke-width="0.75"/><line x1="720.5" y1="430.5" x2="717.4" y2="430.5" stroke-width="0.75"/><line x1="100.5" y1="431.5" x2="103.6" y2="431.5" stroke-width="0.75"/><line x1="720.5" y1="431.5" x2="717.4" y2="431.5" stroke-width="0.75"/><line x1="100.5" y1="433.5" x2="103.6" y2="433.5" stroke-width="0.75"/><line x1="720.5" y1="433.5" x2="717.4" y2="433.5" stroke-width="0.75"/><line x1="100.5" y1="434.5" x2="103.6" y2="434.5" stroke-width="0.75"/><line x1="720.5" y1="434.5" x2="717.4" y2="434.5" stroke-width="0.75"/><line x1="100.5" y1="436.5" x2="103.6" y2="436.5" stroke-width="0.75"/><line x1="720.5" y1="436.5" x2="717.4" y2="436.5" stroke-width="0.75"/><line x1="100.5" y1="437.5" x2="103.6" y2="437.5" stroke-width="0.75"/><line x1="720.5" y1="437.5" x2="717.4" y2="437.5" stroke-width="0.75"/><line x1="100.5" y1="438.5" x2="103.6" y2="438.5" stroke-width="0.75"/><line x1="720.5" y1="438.5" x2="717.4" y2="438.5" stroke-width="0.75"/><line x1="100.5" y1="439.5" x2="103.6" y2="439.5" stroke-width="0.75"/><line x1="720.5" y1="439.5" x2="717.4" y2="439.5" stroke-width="0.75"/><line x1="100.5" y1="440.5" x2="103.6" y2="440.5" stroke-width="0.75"/><line x1="720.5" y1="440.5" x2="717.4" y2="440.5" stroke-width="0.75"/><line x1="100.5" y1="442.5" x2="103.6" y2="442.5" stroke-width="0.75"/><line x1="720.5" y1="442.5" x2="717.4" y2="442.5" stroke-width="0.75"/><line x1="100.5" y1="443.5" x2="103.6" y2="443.5" stroke-width="0.75"/><line x1="720.5" y1="443.5" x2="717.4" y2="443.5" stroke-width="0.75"/><line x1="100.5" y1="445.5" x2="103.6" y2="445.5" stroke-width="0.75"/><line x1="720.5" y1="445.5" x2="717.4" y2="445.5" stroke-width="0.75"/><line x1="100.5" y1="446.5" x2="103.6" y2="446.5" stroke-width="0.75"/><line x1="720.5" y1="446.5" x2="717.4" y2="446.5" stroke-width="0.75"/><line x1="100.5" y1="448.5" x2="103.6" y2="448.5" stroke-width="0.75"/><line x1="720.5" y1="448.5" x2="717.4" y2="448.5" stroke-width="0.75"/><line x1="100.5" y1="449.5" x2="103.6" y2="449.5" stroke-width="0.75"/><line x1="720.5" y1="449.5" x2="717.4" y2="449.5" stroke-width="0.75"/><line x1="100.5" y1="450.5" x2="103.6" y2="450.5" stroke-width="0.75"/><line x1="720.5" y1="450.5" x2="717.4" y2="450.5" stroke-width="0.75"/><line x1="100.5" y1="451.5" x2="103.6" y2="451.5" stroke-width="0.75"/><line x1="720.5" y1="451.5" x2="717.4" y2="451.5" stroke-width="0.75"/><line x1="100.5" y1="452.5" x2="103.6" y2="452.5" stroke-width="0.75"/><line x1="720.5" y1="452.5" x2="717.4" y2="452.5" stroke-width="0.75"/><line x1="100.5" y1="454.5" x2="103.6" y2="454.5" stroke-width="0.75"/><line x1="720.5" y1="454.5" x2="717.4" y2="454.5" stroke-width="0.75"/><line x1="100.5" y1="455.5" x2="103.6" y2="455.5" stroke-width="0.75"/><line x1="720.5" y1="455.5" x2="717.4" y2="455.5" stroke-width="0.75"/><line x1="100.5" y1="457.5" x2="103.6" y2="457.5" stroke-width="0.75"/><line x1="720.5" y1="457.5" x2="717.4" y2="457.5" stroke-width="0.75"/><line x1="100.5" y1="458.5" x2="103.6" y2="458.5" stroke-width="0.75"/><line x1="720.5" y1="458.5" x2="717.4" y2="458.5" stroke-width="0.75"/><line x1="100.5" y1="460.5" x2="103.6" y2="460.5" stroke-width="0.75"/><line x1="720.5" y1="460.5" x2="717.4" y2="460.5" stroke-width="0.75"/><line x1="100.5" y1="461.5" x2="103.6" y2="461.5" stroke-width="0.75"/><line x1="720.5" y1="461.5" x2="717.4" y2="461.5" stroke-width="0.75"/><line x1="100.5" y1="462.5" x2="103.6" y2="462.5" stroke-width="0.75"/><line x1="720.5" y1="462.5" x2="717.4" y2="462.5" stroke-width="0.75"/><line x1="100.5" y1="463.5" x2="103.6" y2="463.5" stroke-width="0.75"/><line x1="720.5" y1="463.5" x2="717.4" y2="463.5" stroke-width="0.75"/><line x1="100.5" y1="464.5" x2="103.6" y2="464.5" stroke-width="0.75"/><line x1="720.5" y1="464.5" x2="717.4" y2="464.5" stroke-width="0.75"/><line x1="100.5" y1="466.5" x2="103.6" y2="466.5" stroke-width="0.75"/><line x1="720.5" y1="466.5" x2="717.4" y2="466.5" stroke-width="0.75"/><line x1="100.5" y1="467.5" x2="103.6" y2="467.5" stroke-width="0.75"/><line x1="720.5" y1="467.5" x2="717.4" y2="467.5" stroke-width="0.75"/><line x1="100.5" y1="469.5" x2="103.6" y2="469.5" stroke-width="0.75"/><line x1="720.5" y1="469.5" x2="717.4" y2="469.5" stroke-width="0.75"/><line x1="100.5" y1="470.5" x2="103.6" y2="470.5" stroke-width="0.75"/><line x1="720.5" y1="470.5" x2="717.4" y2="470.5" stroke-width="0.75"/><line x1="100.5" y1="472.5" x2="103.6" y2="472.5" stroke-width="0.75"/><line x1="720.5" y1="472.5" x2="717.4" y2="472.5" stroke-width="0.75"/><line x1="100.5" y1="473.5" x2="103.6" y2="473.5" stroke-width="0.75"/><line x1="720.5" y1="473.5" x2="717.4" y2="473.5" stroke-width="0.75"/><line x1="100.5" y1="474.5" x2="103.6" y2="474.5" stroke-width="0.75"/><line x1="720.5" y1="474.5" x2="717.4" y2="474.5" stroke-width="0.75"/><line x1="100.5" y1="475.5" x2="103.6" y2="475.5" stroke-width="0.75"/><line x1="720.5" y1="475.5" x2="717.4" y2="475.5" stroke-width="0.75"/><line x1="100.5" y1="476.5" x2="103.6" y2="476.5" stroke-width="0.75"/><line x1="720.5" y1="476.5" x2="717.4" y2="476.5" stroke-width="0.75"/><line x1="100.5" y1="478.5" x2="103.6" y2="478.5" stroke-width="0.75"/><line x1="720.5" y1="478.5" x2="717.4" y2="478.5" stroke-width="0.75"/><line x1="100.5" y1="479.5" x2="103.6" y2="479.5" stroke-width="0.75"/><line x1="720.5" y1="479.5" x2="717.4" y2="479.5" stroke-width="0.75"/><line x1="100.5" y1="420.5" x2="100.5" y2="426.5"/><line x1="100.5" y1="480.5" x2="100.5" y2="474.5"/><line x1="203.5" y1="420.5" x2="203.5" y2="426.5"/><line x1="203.5" y1="480.5" x2="203.5" y2="474.5"/><line x1="307.5" y1="420.5" x2="307.5" y2="426.5"/><line x1="307.5" y1="480.5" x2="307.5" y2="474.5"/><line x1="410.5" y1="420.5" x2="410.5" y2="426.5"/><line x1="410.5" y1="480.5" x2="410.5" y2="474.5"/><line x1="513.5" y1="420.5" x2="513.5" y2="426.5"/><line x1="513.5" y1="480.5" x2="513.5" y2="474.5"/><line x1="617.5" y1="420.5" x2="617.5" y2="426.5"/><line x1="617.5" y1="480.5" x2="617.5" y2="474.5"/><line x1="720.5" y1="420.5" x2="720.5" y2="426.5"/><line x1="720.5" y1="480.5" x2="720.5" y2="474.5"/><line x1="100.5" y1="420.5" x2="100.5" y2="423.6" stroke-width="0.75"/><line x1="100.5" y1="480.5" x2="100.5" y2="477.4" stroke-width="0.75"/><line x1="139.5" y1="420.5" x2="139.5" y2="423.6" stroke-width="0.75"/><line x1="139.5" y1="480.5" x2="139.5" y2="477.4" stroke-width="0.75"/><line x1="178.5" y1="420.5" x2="178.5" y2="423.6" stroke-width="0.75"/><line x1="178.5" y1="480.5" x2="178.5" y2="477.4" stroke-width="0.75"/><line x1="216.5" y1="420.5" x2="216.5" y2="423.6" stroke-width="0.75"/><line x1="216.5" y1="480.5" x2="216.5" y2="477.4" stroke-width="0.75"/><line x1="255.5" y1="420.5" x2="255.5" y2="423.6" stroke-width="0.75"/><line x1="255.5" y1="480.5" x2="255.5" y2="477.4" stroke-width="0.75"/><line x1="294.5" y1="420.5" x2="294.5" y2="423.6" stroke-width="0.75"/><line x1="294.5" y1="480.5" x2="294.5" y2="477.4" stroke-width="0.75"/><line x1="333.5" y1="420.5" x2="333.5" y2="423.6" stroke-width="0.75"/><line x1="333.5" y1="480.5" x2="333.5" y2="477.4" stroke-width="0.75"/><line x1="371.5" y1="420.5" x2="371.5" y2="423.6" stroke-width="0.75"/><line x1="371.5" y1="480.5" x2="371.5" y2="477.4" stroke-width="0.75"/><line x1="410.5" y1="420.5" x2="410.5" y2="423.6" stroke-width="0.75"/><line x1="410.5" y1="480.5" x2="410.5" y2="477.4" stroke-width="0.75"/><line x1="449.5" y1="420.5" x2="449.5" y2="423.6" stroke-width="0.75"/><line x1="449.5" y1="480.5" x2="449.5" y2="477.4" stroke-width="0.75"/><line x1="488.5" y1="420.5" x2="488.5" y2="423.6" stroke-width="0.75"/><line x1="488.5" y1="480.5" x2="488.5" y2="477.4" stroke-width="0.75"/><line x1="526.5" y1="420.5" x2="526.5" y2="423.6" stroke-width="0.75"/><line x1="526.5" y1="480.5" x2="526.5" y2="477.4" stroke-width="0.75"/><line x1="565.5" y1="420.5" x2="565.5" y2="423.6" stroke-width="0.75"/><line x1="565.5" y1="480.5" x2="565.5" y2="477.4" stroke-width="0.75"/><line x1="604.5" y1="420.5" x2="604.5" y2="423.6" stroke-width="0.75"/><line x1="604.5" y1="480.5" x2="604.5" y2="477.4" stroke-width="0.75"/><line x1="643.5" y1="420.5" x2="643.5" y2="423.6" stroke-width="0.75"/><line x1="643.5" y1="480.5" x2="643.5" y2="477.4" stroke-width="0.75"/><line x1="681.5" y1="420.5" x2="681.5" y2="423.6" stroke-width="0.75"/><line x1="681.5" y1="480.5" x2="681.5" y2="477.4" stroke-width="0.75"/><line x1="720.5" y1="420.5" x2="720.5" y2="423.6" stroke-width="0.75"/><line x1="720.5" y1="480.5" x2="720.5" y2="477.4" stroke-width="0.75"/></g><rect x="100.5" y="420.5" width="620" height="60" fill="none" stroke="#000" stroke-width="1.2"/><g font-size="9.8" text-anchor="end" fill="#000"><text transform="translate(94.20,423.00) scale(0.93,1)">0.010</text><text transform="translate(94.20,435.00) scale(0.93,1)">0.008</text><text transform="translate(94.20,447.00) scale(0.93,1)">0.006</text><text transform="translate(94.20,459.00) scale(0.93,1)">0.004</text><text transform="translate(94.20,471.00) scale(0.93,1)">0.002</text><text transform="translate(94.20,483.00) scale(0.93,1)">0.000</text></g><text transform="translate(61.84,478.77) rotate(-90)" font-size="8.6" textLength="54.86" lengthAdjust="spacingAndGlyphs">Rainfall_Tot()</text><g transform="translate(90.70,493.00) rotate(-30)" font-size="9.8" text-anchor="end"><text x="0" y="0" textLength="48.6" lengthAdjust="spacingAndGlyphs">2017-12-11</text><text x="2.3" y="10.7" textLength="25.3" lengthAdjust="spacingAndGlyphs">00:00</text></g><g transform="translate(194.03,493.00) rotate(-30)" font-size="9.8" text-anchor="end"><text x="0" y="0" textLength="48.6" lengthAdjust="spacingAndGlyphs">2017-12-11</text><text x="2.3" y="10.7" textLength="25.3" lengthAdjust="spacingAndGlyphs">08:00</text></g><g transform="translate(297.37,493.00) rotate(-30)" font-size="9.8" text-anchor="end"><text x="0" y="0" textLength="48.6" lengthAdjust="spacingAndGlyphs">2017-12-11</text><text x="2.3" y="10.7" textLength="25.3" lengthAdjust="spacingAndGlyphs">16:00</text></g><g transform="translate(400.70,493.00) rotate(-30)" font-size="9.8" text-anchor="end"><text x="0" y="0" textLength="48.6" lengthAdjust="spacingAndGlyphs">2017-12-12</text><text x="2.3" y="10.7" textLength="25.3" lengthAdjust="spacingAndGlyphs">00:00</text></g><g transform="translate(504.03,493.00) rotate(-30)" font-size="9.8" text-anchor="end"><text x="0" y="0" textLength="48.6" lengthAdjust="spacingAndGlyphs">2017-12-12</text><text x="2.3" y="10.7" textLength="25.3" lengthAdjust="spacingAndGlyphs">08:00</text></g><g transform="translate(607.37,493.00) rotate(-30)" font-size="9.8" text-anchor="end"><text x="0" y="0" textLength="48.6" lengthAdjust="spacingAndGlyphs">2017-12-12</text><text x="2.3" y="10.7" textLength="25.3" lengthAdjust="spacingAndGlyphs">16:00</text></g><g transform="translate(710.70,493.00) rotate(-30)" font-size="9.8" text-anchor="end"><text x="0" y="0" textLength="48.6" lengthAdjust="spacingAndGlyphs">2017-12-13</text><text x="2.3" y="10.7" textLength="25.3" lengthAdjust="spacingAndGlyphs">00:00</text></g><text x="349.79" y="18.60" font-size="9.6" textLength="100.01" lengthAdjust="spacingAndGlyphs" >Site10_BayView_Fifteen</text><text x="347.77" y="28.50" font-size="9.6" textLength="105.05" lengthAdjust="spacingAndGlyphs" >2017-12-13 - (2017-347)</text><text x="366.54" y="550.00" font-size="18.2" textLength="86.52" lengthAdjust="spacingAndGlyphs" >Date/Time</text></svg></body></html>
